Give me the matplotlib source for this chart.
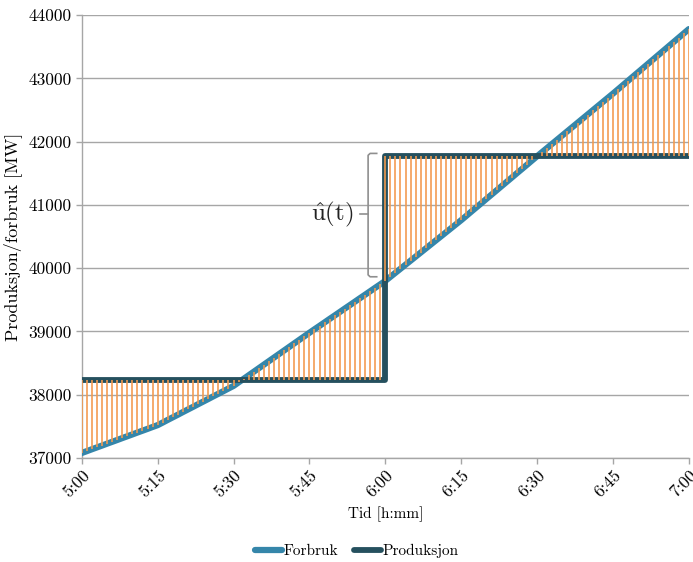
import matplotlib
matplotlib.use("Agg")
import matplotlib.pyplot as plt
import numpy as np

plt.rcParams['font.family'] = ['cmr10', 'DejaVu Serif']
plt.rcParams['mathtext.fontset'] = 'cm'
plt.rcParams['axes.formatter.use_mathtext'] = True

# minutes after 5:00
minutes = list(range(0, 121))
forbruk = [
    37080, 37109, 37139, 37168, 37197, 37227, 37256, 37285, 37315, 37344,
    37373, 37403, 37432, 37461, 37491, 37520, 37561, 37603, 37644, 37685,
    37727, 37768, 37809, 37851, 37892, 37933, 37975, 38016, 38057, 38099,
    38140, 38196, 38252, 38308, 38364, 38420, 38476, 38532, 38588, 38644,
    38700, 38756, 38812, 38868, 38924, 38980, 39035, 39089, 39144, 39199,
    39253, 39308, 39363, 39417, 39472, 39527, 39581, 39636, 39691, 39745,
    39800, 39864, 39928, 39992, 40056, 40120, 40184, 40248, 40312, 40376,
    40440, 40504, 40568, 40632, 40696, 40760, 40827, 40895, 40962, 41029,
    41097, 41164, 41231, 41299, 41366, 41433, 41501, 41568, 41635, 41703,
    41770, 41836, 41902, 41968, 42034, 42100, 42166, 42232, 42298, 42364,
    42430, 42496, 42562, 42628, 42694, 42760, 42828, 42896, 42964, 43032,
    43100, 43168, 43236, 43304, 43372, 43440, 43508, 43576, 43644, 43712,
    43780,
]
produksjon = [38240] * 60 + [41780] * 61

tick_pos = [0, 15, 30, 45, 60, 75, 90, 105, 120]
tick_labels = ["5:00", "5:15", "5:30", "5:45", "6:00", "6:15", "6:30", "6:45", "7:00"]
y_ticks = [37000, 38000, 39000, 40000, 41000, 42000, 43000, 44000]

fig = plt.figure(figsize=(6.93, 5.62), dpi=100)
ax = fig.add_axes([0.118, 0.185, 0.876, 0.788])

c_forb = '#3586aa'
c_prod = '#25505e'
c_orange = '#f39a4e'

ax.plot(minutes, forbruk, color=c_forb, lw=4.5, solid_capstyle='round', zorder=3, label='Forbruk')
ax.plot(minutes, produksjon, color=c_prod, lw=4.2, drawstyle='steps-post', solid_capstyle='round',
        zorder=4, label='Produksjon')
ax.vlines(minutes, forbruk, produksjon, color=c_orange, lw=1.3, alpha=0.9, zorder=5)

# brace with û(t)
bx, btip, bmid = 56.6, 58.3, 55.0
ytop, ybot, ymid = 41815, 39865, 40850
bc = '#8f8f8f'
ax.plot([btip, bx + 0.4, bx, bx, bx + 0.4, btip],
        [ytop, ytop, ytop - 30, ybot + 30, ybot, ybot], color=bc, lw=1.2, zorder=2)
ax.plot([bx, bmid], [ymid, ymid], color=bc, lw=1.2, zorder=2)
ax.text(53.8, ymid, r'$\hat{\mathrm{u}}(\mathrm{t})$', fontsize=18, ha='right', va='center', color='#222222')

ax.set_xlim(0, 120)
ax.set_ylim(37000, 44000)
ax.set_yticks(y_ticks)
ax.set_yticklabels([str(v) for v in y_ticks])
ax.set_xticks(tick_pos)
ax.set_xticklabels(tick_labels, rotation=45, ha='right', rotation_mode='anchor')
ax.tick_params(axis='both', labelsize=12.5, color='#a6a6a6', length=4, width=1)
ax.tick_params(axis='x', pad=3)
ax.grid(axis='y', color='#a6a6a6', lw=1)
ax.set_axisbelow(True)
for s in ['top', 'right']:
    ax.spines[s].set_visible(False)
for s in ['left', 'bottom']:
    ax.spines[s].set_color('#a6a6a6')
    ax.spines[s].set_linewidth(1)

ax.set_xlabel('Tid [h:mm]', fontsize=11, labelpad=4)
ax.set_ylabel('Produksjon/forbruk [MW]', fontsize=13, labelpad=4)

leg = fig.legend(loc='lower center', bbox_to_anchor=(0.515, -0.018), ncol=2, frameon=False,
                 fontsize=11, handlelength=1.8, handletextpad=0.1, columnspacing=1.0)

fig.savefig('out.png', dpi=100)
